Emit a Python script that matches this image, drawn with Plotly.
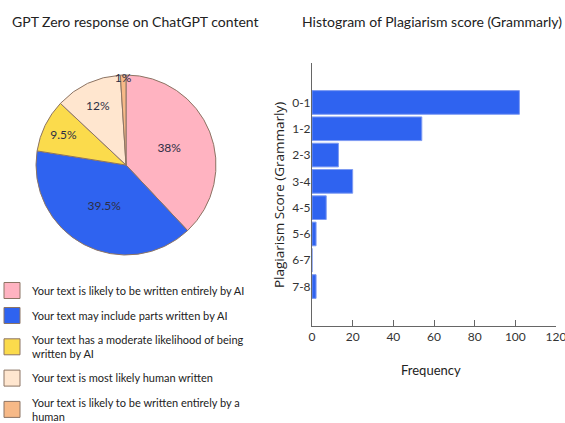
import plotly.graph_objects as go

# ---- data ----
pie_labels = [
    "Your text is likely to be written entirely by AI",
    "Your text may include parts written by AI",
    "Your text has a moderate likelihood of being<br>written by AI",
    "Your text is most likely human written",
    "Your text is likely to be written entirely by a<br>human",
]
pie_values = [38, 39.5, 9.5, 12, 1]
pie_text = ["38%", "39.5%", "9.5%", "12%", "1%"]
pie_colors = ["#FFB3C1", "#2F63F0", "#FBDB4C", "#FFE6CF", "#F7B987"]

score_bins = ["0-1", "1-2", "2-3", "3-4", "4-5", "5-6", "6-7", "7-8"]
frequency = [102, 54, 13, 20, 7, 2, 0, 2]
x_ticks = [0, 20, 40, 60, 80, 100, 120]

FONT = "Lato, sans-serif"
AXFONT = "Open Sans, sans-serif"
EDGE = "#8C7464"
W, H = 565, 423

fig = go.Figure()

fig.add_trace(go.Pie(
    labels=pie_labels,
    values=pie_values,
    text=pie_text,
    textinfo="text",
    textposition="inside",
    insidetextorientation="horizontal",
    sort=False,
    direction="clockwise",
    rotation=0,
    marker=dict(colors=pie_colors, line=dict(color=EDGE, width=1)),
    textfont=dict(family=FONT, size=12, color="#2E2E44"),
    domain=dict(x=[36 / W, 216 / W], y=[1 - 256 / H, 1 - 74 / H]),
    hoverinfo="label+percent",
    showlegend=False,
))

# legend entries for the pie slices (square swatches)
for i, (lab, col) in enumerate(zip(pie_labels, pie_colors)):
    fig.add_trace(go.Scatter(
        x=[None], y=[None], mode="markers",
        marker=dict(symbol="square", size=16, color=col, line=dict(color=EDGE, width=1)),
        name=lab, legendgroup=f"g{i}", showlegend=True,
        xaxis="x", yaxis="y", hoverinfo="skip",
    ))

fig.add_trace(go.Bar(
    y=score_bins,
    x=frequency,
    orientation="h",
    marker=dict(color="#2F63F0", line=dict(color="#7E9BF2", width=1)),
    xaxis="x", yaxis="y",
    showlegend=False,
))

fig.update_layout(
    width=W, height=H,
    margin=dict(l=0, r=0, t=0, b=0, autoexpand=False),
    paper_bgcolor="white",
    plot_bgcolor="white",
    font=dict(family=FONT, size=12, color="#333333"),
    bargap=0.1,
    uniformtext=dict(minsize=11, mode="show"),
    xaxis=dict(
        domain=[312 / W, 556 / W],
        range=[0, 120],
        tickvals=x_ticks,
        ticks="inside", ticklen=6, tickcolor="#666666",
        showline=True, linecolor="#666666", linewidth=1,
        showgrid=False, zeroline=False,
        ticklabeloverflow="allow",
        tickfont=dict(family=FONT, size=12, color="#333333"),
        anchor="y",
    ),
    yaxis=dict(
        domain=[1 - 326 / H, 1 - 63 / H],
        type="category",
        categoryorder="array", categoryarray=score_bins,
        range=[8.5, -1.5],
        showline=True, linecolor="#666666", linewidth=1,
        ticks="", showgrid=False, zeroline=False,
        ticklabelstandoff=-2,
        tickfont=dict(family=FONT, size=12, color="#333333"),
        anchor="x",
    ),
    legend=dict(
        x=-8 / W, y=1 - 276 / H, xanchor="left", yanchor="top",
        font=dict(family=FONT, size=11, color="#222222"),
        bgcolor="rgba(0,0,0,0)",
        itemwidth=30,
        tracegroupgap=6,
        traceorder="grouped",
    ),
    annotations=[
        dict(text="GPT Zero response on ChatGPT content", x=135 / W, y=1 - 22 / H,
             xref="paper", yref="paper", showarrow=False,
             xanchor="center", yanchor="middle",
             font=dict(family=FONT, size=14, color="#222222")),
        dict(text="Histogram of Plagiarism score (Grammarly)", x=432 / W, y=1 - 22 / H,
             xref="paper", yref="paper", showarrow=False,
             xanchor="center", yanchor="middle",
             font=dict(family=FONT, size=14, color="#222222")),
        dict(text="Plagiarism Score (Grammarly)", x=279 / W, y=1 - 195 / H,
             xref="paper", yref="paper", showarrow=False, textangle=-90,
             xanchor="center", yanchor="middle",
             font=dict(family=AXFONT, size=13.5, color="#222222")),
        dict(text="Frequency", x=431 / W, y=1 - 370 / H,
             xref="paper", yref="paper", showarrow=False,
             xanchor="center", yanchor="middle",
             font=dict(family=FONT, size=13, color="#222222")),
    ],
)

fig.write_html("out.html", config={"displayModeBar": False},
               post_script="document.body.style.margin='0px';")
